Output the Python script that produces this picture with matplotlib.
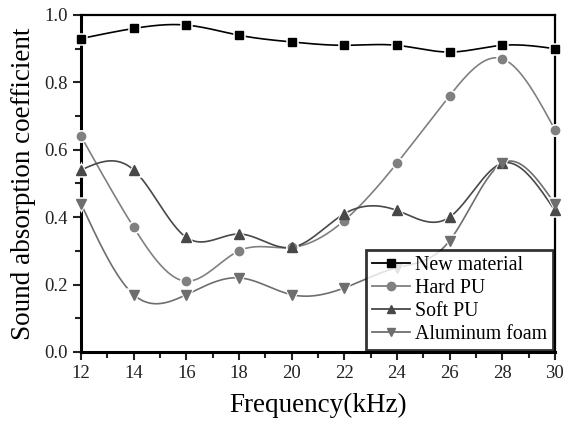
import numpy as np
import matplotlib
matplotlib.use("Agg")
import matplotlib.pyplot as plt
from matplotlib.ticker import MultipleLocator

plt.rcParams["font.family"] = ["Liberation Serif", "DejaVu Serif"]

freq = [12, 14, 16, 18, 20, 22, 24, 26, 28, 30]
new_material = [0.93, 0.96, 0.97, 0.94, 0.92, 0.91, 0.91, 0.89, 0.91, 0.90]
hard_pu = [0.64, 0.37, 0.21, 0.30, 0.31, 0.39, 0.56, 0.76, 0.87, 0.66]
soft_pu = [0.54, 0.54, 0.34, 0.35, 0.31, 0.41, 0.42, 0.40, 0.56, 0.42]
aluminum_foam = [0.44, 0.17, 0.17, 0.22, 0.17, 0.19, 0.25, 0.33, 0.56, 0.44]


def natural_spline(x, y, n=400):
    # natural cubic spline through the measured points
    x = np.asarray(x, float)
    y = np.asarray(y, float)
    k = len(x)
    h = np.diff(x)
    A = np.zeros((k, k))
    b = np.zeros(k)
    A[0, 0] = A[-1, -1] = 1
    for i in range(1, k - 1):
        A[i, i - 1] = h[i - 1]
        A[i, i] = 2 * (h[i - 1] + h[i])
        A[i, i + 1] = h[i]
        b[i] = 6 * ((y[i + 1] - y[i]) / h[i] - (y[i] - y[i - 1]) / h[i - 1])
    m = np.linalg.solve(A, b)
    xs = np.linspace(x[0], x[-1], n)
    idx = np.clip(np.searchsorted(x, xs) - 1, 0, k - 2)
    x0, x1 = x[idx], x[idx + 1]
    hh = x1 - x0
    t0, t1 = x1 - xs, xs - x0
    ys = (m[idx] * t0 ** 3 + m[idx + 1] * t1 ** 3) / (6 * hh) \
        + (y[idx] / hh - m[idx] * hh / 6) * t0 \
        + (y[idx + 1] / hh - m[idx + 1] * hh / 6) * t1
    return xs, ys


fig = plt.figure(figsize=(5.65, 4.22), dpi=100)
ax = fig.add_axes([0.1434, 0.166, 0.8386, 0.7985])

series = [
    ("New material", new_material, "#000000", "s", 7),
    ("Hard PU", hard_pu, "#808080", "o", 7.5),
    ("Soft PU", soft_pu, "#484848", "^", 8),
    ("Aluminum foam", aluminum_foam, "#6e6e6e", "v", 8),
]

for label, vals, color, marker, ms in series:
    xs, ys = natural_spline(freq, vals)
    ax.plot(xs, ys, color=color, lw=1.2, zorder=2)
    ax.plot(freq, vals, ls="none", marker=marker, ms=ms, color=color,
            mec="white", mew=1.8, zorder=3, clip_on=False)
    ax.plot(freq, vals, ls="none", marker=marker, ms=ms - 1.5, color=color,
            zorder=4, clip_on=False)
    ax.plot([], [], color=color, lw=1.3, marker=marker, ms=6, label=label)

ax.set_xlim(12, 30)
ax.set_ylim(0, 1.0)
ax.xaxis.set_major_locator(MultipleLocator(2))
ax.xaxis.set_minor_locator(MultipleLocator(1))
ax.yaxis.set_major_locator(MultipleLocator(0.2))
ax.yaxis.set_minor_locator(MultipleLocator(0.1))
ax.yaxis.set_major_formatter(plt.FormatStrFormatter("%.1f"))
ax.tick_params(which="both", direction="out", top=False, right=False,
               labelsize=13.5, width=1.5, colors="#222222")
ax.tick_params(which="major", length=6)
ax.tick_params(which="minor", length=4)
for side in ["left", "bottom"]:
    ax.spines[side].set_linewidth(2.2)
for side in ["top", "right"]:
    ax.spines[side].set_linewidth(1.6)

ax.set_xlabel("Frequency(kHz)", fontsize=19.5, labelpad=8)
ax.set_ylabel("Sound absorption coefficient", fontsize=19.5, labelpad=6)

leg = ax.legend(loc="lower right", fontsize=14.3, frameon=True, fancybox=False,
                borderpad=0.3, labelspacing=0.2, handlelength=1.9,
                handletextpad=0.25, borderaxespad=0.1)
leg.get_frame().set_edgecolor("black")
leg.get_frame().set_linewidth(2.0)

fig.savefig("out.png", dpi=100)
